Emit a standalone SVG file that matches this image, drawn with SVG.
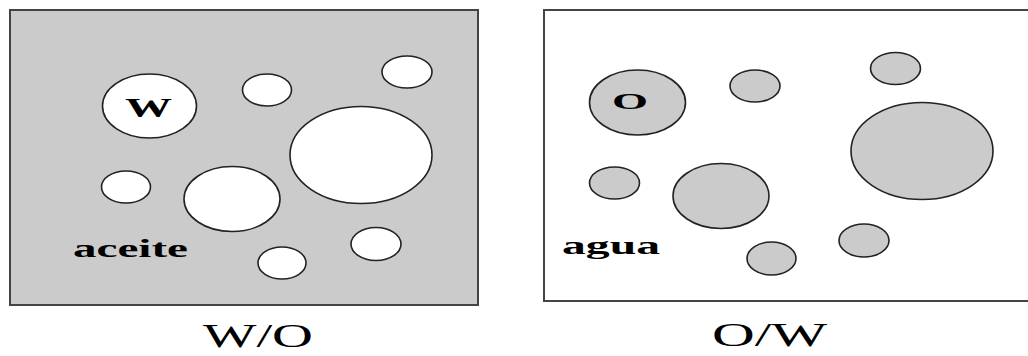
<svg xmlns="http://www.w3.org/2000/svg" width="1028" height="356" viewBox="0 0 1028 356">
<style>
.frame{stroke:#444;stroke-width:2}
.b{stroke:#222;stroke-width:1.6}
.lbl{font-family:"Liberation Serif","Times New Roman",serif;font-weight:bold;fill:#000}
.cap{font-family:"Liberation Serif","Times New Roman",serif;fill:#000}
</style>
<rect width="1028" height="356" fill="#fff"/>
<g id="wo-panel">
<rect class="frame" x="10" y="10" width="468" height="295" fill="#cbcbcb"/>
<g fill="#fff">
<ellipse class="b" cx="149.5" cy="106" rx="47" ry="32"/>
<ellipse class="b" cx="267" cy="90" rx="24.5" ry="16"/>
<ellipse class="b" cx="407" cy="72" rx="25" ry="16"/>
<ellipse class="b" cx="361" cy="155" rx="71" ry="48.5"/>
<ellipse class="b" cx="126" cy="187" rx="24.5" ry="16"/>
<ellipse class="b" cx="232" cy="199" rx="48" ry="32.5"/>
<ellipse class="b" cx="376" cy="244" rx="25" ry="16.5"/>
<ellipse class="b" cx="282" cy="263" rx="24" ry="16"/>
</g>
<text class="lbl" x="125" y="117" font-size="27" textLength="47" lengthAdjust="spacingAndGlyphs">W</text>
<text class="lbl" x="73" y="257" font-size="26" textLength="115" lengthAdjust="spacingAndGlyphs">aceite</text>
</g>
<g id="ow-panel">
<rect class="frame" x="544" y="10" width="490" height="291" fill="#fff"/>
<g fill="#cbcbcb">
<ellipse class="b" cx="637.5" cy="102.5" rx="48" ry="32.5"/>
<ellipse class="b" cx="755" cy="86" rx="25" ry="16"/>
<ellipse class="b" cx="895.5" cy="68.5" rx="25" ry="16"/>
<ellipse class="b" cx="922" cy="151" rx="71" ry="48.5"/>
<ellipse class="b" cx="614.5" cy="183" rx="25" ry="16"/>
<ellipse class="b" cx="721" cy="196" rx="48" ry="32.5"/>
<ellipse class="b" cx="864" cy="240.5" rx="25" ry="16.5"/>
<ellipse class="b" cx="771.5" cy="258.5" rx="24.5" ry="16.5"/>
</g>
<text class="lbl" x="612" y="109" font-size="23" textLength="36" lengthAdjust="spacingAndGlyphs">O</text>
<text class="lbl" x="562" y="254" font-size="26" textLength="98" lengthAdjust="spacingAndGlyphs">agua</text>
</g>
<g id="captions">
<text class="cap" x="203" y="347" font-size="33" textLength="110" lengthAdjust="spacingAndGlyphs">W/O</text>
<text class="cap" x="712" y="346" font-size="33" textLength="115" lengthAdjust="spacingAndGlyphs">O/W</text>
</g>
<g id="connectors"/>
</svg>
